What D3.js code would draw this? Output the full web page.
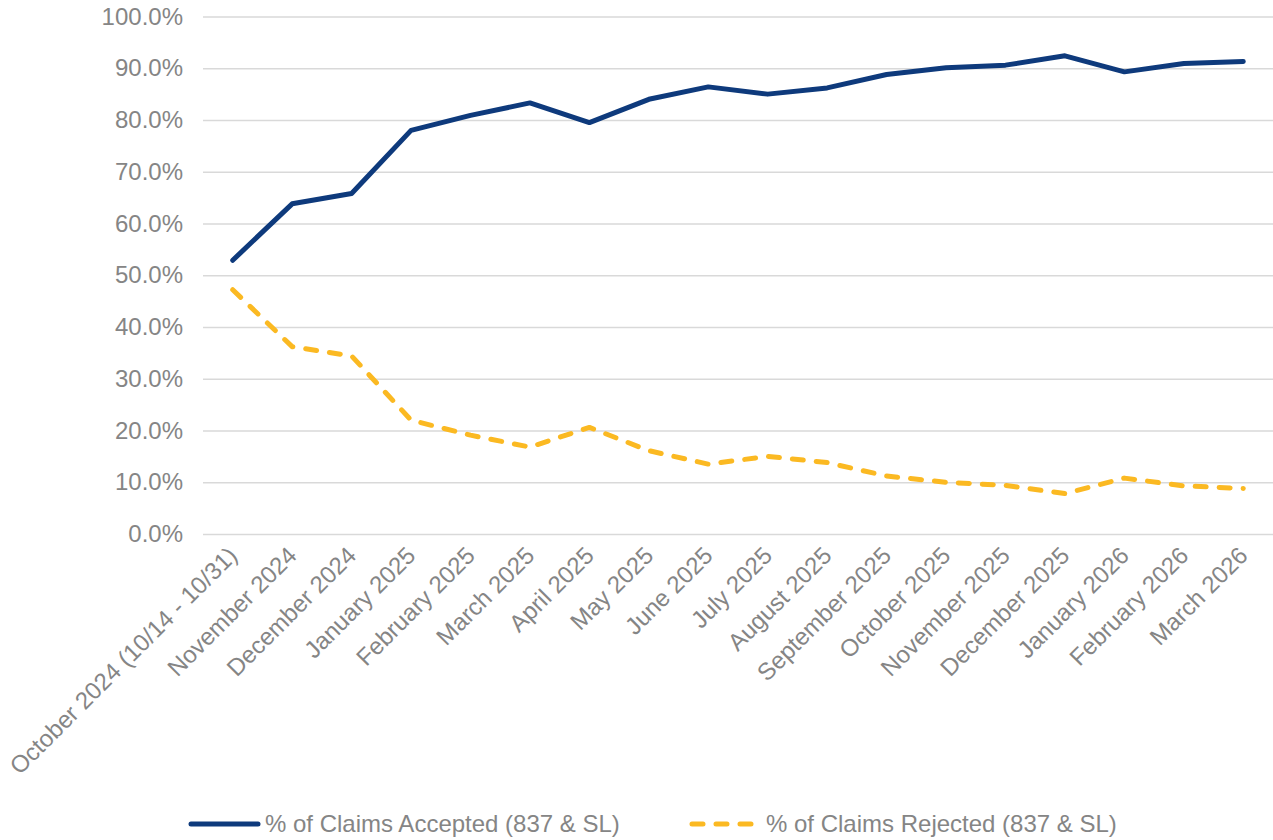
<!DOCTYPE html>
<html>
<head>
<meta charset="utf-8">
<script src="https://cdn.jsdelivr.net/npm/d3@7"></script>
<style>
  body { margin: 0; background: #fff; }
  svg { display: block; font-family: "Liberation Sans", Arial, sans-serif; }
</style>
</head>
<body>
<script>
const months = [
    'October 2024 (10/14 - 10/31)', 'November 2024', 'December 2024', 'January 2025',
    'February 2025', 'March 2025', 'April 2025', 'May 2025', 'June 2025', 'July 2025',
    'August 2025', 'September 2025', 'October 2025', 'November 2025', 'December 2025',
    'January 2026', 'February 2026', 'March 2026'
];
const accepted = [52.9, 63.8, 65.8, 78.0, 80.9, 83.3, 79.5, 84.0, 86.4, 85.0,
    86.2, 88.8, 90.1, 90.6, 92.4, 89.3, 90.9, 91.3];
const rejected = [47.2, 36.2, 34.4, 22.0, 19.1, 16.8, 20.6, 16.1, 13.5, 15.0,
    13.8, 11.2, 10.0, 9.4, 7.8, 10.8, 9.3, 8.8];
const yTicks = [0, 10, 20, 30, 40, 50, 60, 70, 80, 90, 100];
const seriesNames = ['% of Claims Accepted (837 & SL)', '% of Claims Rejected (837 & SL)'];

const W = 1273, H = 840;
const navy = '#0e3a7c', gold = '#fbb922', textColor = '#858585';
const fontSize = 24;

const svg = d3.select('body').append('svg').
    attr('width', W).
    attr('height', H);

const x = d3.scaleBand().
    domain(months).
    range([203, 1273]);

const y = d3.scaleLinear().
    domain([0, 100]).
    range([534, 16.5]);

// gridlines + y labels
const yAxis = d3.axisLeft(y).
    tickValues(yTicks).
    tickSize(-(W - 203)).
    tickPadding(20).
    tickFormat(d => d.toFixed(1) + '%');

svg.append('g').
    attr('transform', 'translate(203,0)').
    call(yAxis).
    call(g => g.select('.domain').remove()).
    call(g => g.selectAll('.tick line').attr('stroke', '#d9d9d9').attr('stroke-width', 1.6)).
    call(g => g.selectAll('.tick text').
        attr('fill', textColor).
        attr('font-size', fontSize).
        attr('font-family', '"Liberation Sans", Arial, sans-serif'));

// x labels, rotated
svg.append('g').
    selectAll('text').
    data(months).
    enter().append('text').
    attr('transform', d => `translate(${x(d) + x.bandwidth() / 2 + 6},${557}) rotate(-45)`).
    attr('text-anchor', 'end').
    attr('fill', textColor).
    attr('font-size', fontSize).
    text(d => d);

const line = d3.line().
    x((d, i) => x(months[i]) + x.bandwidth() / 2).
    y(d => y(d));

svg.append('path').
    datum(accepted).
    attr('d', line).
    attr('fill', 'none').
    attr('stroke', navy).
    attr('stroke-width', 5).
    attr('stroke-linejoin', 'round').
    attr('stroke-linecap', 'round');

svg.append('path').
    datum(rejected).
    attr('d', line).
    attr('fill', 'none').
    attr('stroke', gold).
    attr('stroke-width', 5).
    attr('stroke-dasharray', '11,13').
    attr('stroke-linejoin', 'round').
    attr('stroke-linecap', 'round');

// legend
const legend = svg.append('g').attr('transform', 'translate(0,824)');

legend.append('line').
    attr('x1', 191).attr('x2', 258).
    attr('stroke', navy).attr('stroke-width', 5).
    attr('stroke-linecap', 'round');
legend.append('text').
    attr('x', 265).attr('dy', '0.35em').
    attr('fill', textColor).attr('font-size', fontSize).
    text(seriesNames[0]);

legend.append('line').
    attr('x1', 692).attr('x2', 751).
    attr('stroke', gold).attr('stroke-width', 5).
    attr('stroke-dasharray', '11,13').
    attr('stroke-linecap', 'round');
legend.append('text').
    attr('x', 766).attr('dy', '0.35em').
    attr('fill', textColor).attr('font-size', fontSize).
    text(seriesNames[1]);
</script>
</body>
</html>
